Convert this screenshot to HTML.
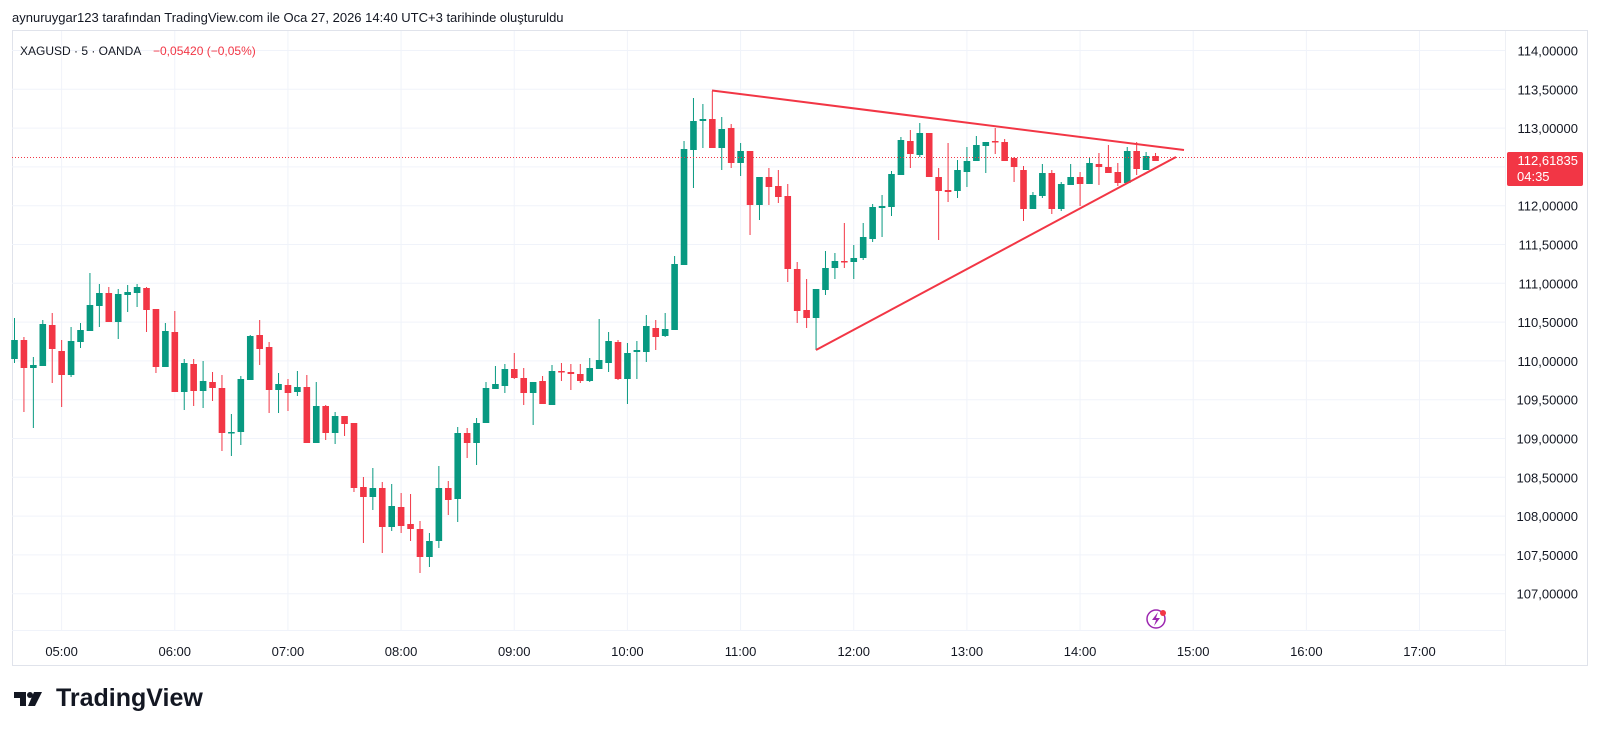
<!DOCTYPE html>
<html><head><meta charset="utf-8"><style>
body{margin:0;background:#fff;font-family:"Liberation Sans",sans-serif;}
</style></head><body>
<svg id="s" width="1600" height="733" xmlns="http://www.w3.org/2000/svg" style="display:block">
<rect width="1600" height="733" fill="#fff"/>
<text x="12" y="22" font-size="13" fill="#131722">aynuruygar123 tarafından TradingView.com ile Oca 27, 2026 14:40 UTC+3 tarihinde oluşturuldu</text>
<rect x="12.5" y="30.5" width="1575" height="635" fill="none" stroke="#e0e3eb"/>
<g id="grid" stroke="#f0f3fa" stroke-width="1"></g>
<line x1="12" y1="630.5" x2="1505" y2="630.5" stroke="#f0f3fa"/>
<line x1="1505.5" y1="31" x2="1505.5" y2="665" stroke="#eef0f5"/>
<g id="c"></g>
<line x1="12" y1="157.5" x2="1505" y2="157.5" stroke="#f23645" stroke-dasharray="1,2"/>
<line x1="712" y1="90.5" x2="1184" y2="150" stroke="#f23645" stroke-width="2"/>
<line x1="816" y1="350" x2="1176" y2="157" stroke="#f23645" stroke-width="2"/>
<g id="p" font-size="13" fill="#131722" text-anchor="end"></g>
<rect x="1507" y="152" width="76" height="34" rx="2" fill="#f23645"/>
<text x="1578" y="165" font-size="13" fill="#fff" text-anchor="end">112,61835</text>
<text x="1517" y="181" font-size="13" fill="#fff">04:35</text>
<g id="t" font-size="13" fill="#131722" text-anchor="middle"></g>
<text x="20" y="55" font-size="12" fill="#131722">XAGUSD · 5 · OANDA</text>
<text x="153" y="55" font-size="12" fill="#f23645">−0,05420 (−0,05%)</text>
<circle cx="1156" cy="619" r="9" fill="none" stroke="#9c27b0" stroke-width="1.5"/>
<path d="M1158 612 L1152 620 L1156 620 L1154 626 L1160 618 L1156 618 Z" fill="#9c27b0"/>
<circle cx="1163" cy="613" r="3" fill="#f23645"/>
<path d="M14 692 h12 v14 h-6 v-8 h-6 z" fill="#131722"/>
<circle cx="30" cy="695" r="3" fill="#131722"/>
<path d="M34 692 h8 l-7 14 h-7 z" fill="#131722"/>
<text x="56" y="706" font-size="25" font-weight="bold" fill="#131722">TradingView</text>
</svg>
<script>
var ns="http://www.w3.org/2000/svg";
function el(p,t,a,txt){var e=document.createElementNS(ns,t);for(var k in a)e.setAttribute(k,a[k]);if(txt)e.textContent=txt;document.getElementById(p).appendChild(e);}
var prices=["114,00000","113,50000","113,00000","112,50000","112,00000","111,50000","111,00000","110,50000","110,00000","109,50000","109,00000","108,50000","108,00000","107,50000","107,00000"];
for(var i=0;i<prices.length;i++){var y=50.5+i*38.8;el("grid","line",{x1:12,x2:1505,y1:y,y2:y});if(i!=3)el("p","text",{x:1578,y:y+5},prices[i]);}
var names=["05:00","06:00","07:00","08:00","09:00","10:00","11:00","12:00","13:00","14:00","15:00","16:00","17:00"];
names.forEach(function(n,k){var x=61.6+113.16*k;el("grid","line",{x1:x,x2:x,y1:31,y2:630});el("t","text",{x:x,y:656},n);});
var d=[[340,359,318,363,1],[340,368,337,412,0],[365,368,357,428,1],[324,366,320,366,1],[325,349,313,383,0],[351,375,340,407,0],[341,375,327,377,1],[330,342,323,348,1],[305,331,273,331,1],[293,306,284,327,1],[293,322,287,322,0],[294,322,289,339,1],[292,295,285,312,1],[287,293,284,307,1],[288,310,287,332,0],[309,367,309,373,0],[331,367,323,367,1],[332,392,311,392,0],[363,392,359,410,1],[364,391,359,406,0],[381,391,361,408,1],[382,388,372,401,0],[388,433,375,451,0],[432,433,414,456,1],[379,432,376,445,1],[336,380,335,380,1],[335,349,320,365,0],[347,390,342,413,0],[384,390,373,413,1],[385,393,379,411,0],[387,392,371,396,1],[387,443,375,443,0],[406,443,382,443,1],[406,433,405,440,0],[416,433,412,444,1],[416,424,416,436,0],
[423,488,423,492,0],[487,497,477,543,0],[488,497,468,510,1],[488,527,482,553,0],[506,527,484,531,1],[507,526,493,533,0],[524,529,494,541,0],[529,557,521,573,0],[541,557,533,567,1],[488,541,466,548,1],[488,500,481,515,0],[433,499,427,522,1],[433,443,428,458,0],[423,443,418,465,1],[388,423,382,423,1],[384,389,366,389,1],[369,386,364,393,1],[369,378,353,379,0],[378,393,368,405,0],[382,393,382,425,1],[381,404,376,404,0],[371,405,365,405,1],[371,372,363,381,0],[372,374,364,390,0],[374,381,364,383,0],[368,381,358,382,1],[360,369,319,369,1],[341,363,332,372,1],[342,379,340,380,0],[353,379,343,404,1],[350,352,341,379,1],[326,352,315,362,1],[328,337,320,350,0],[329,336,313,337,1],
[264,330,256,330,1],[149,265,141,265,1],[121,150,98,188,1],[119,121,104,148,1],[119,148,91,148,0],[129,148,117,170,1],[128,163,124,168,0],[151,163,143,176,1],[151,205,151,235,0],[177,205,177,220,1],[177,187,168,205,0],[186,197,170,203,0],[196,269,184,282,0],[269,311,262,323,0],[310,318,279,328,0],[289,318,289,350,1],[268,290,251,295,1],[261,268,253,279,1],[261,262,223,268,0],[258,262,245,279,1],[237,258,223,260,1],[207,239,204,242,1],[206,208,195,237,1],[174,207,171,216,1],[140,175,137,175,1],[141,154,130,168,0],[133,155,123,157,1],[133,177,133,177,0],[177,191,168,240,0],
[190,192,143,202,0],[170,191,160,198,1],[161,172,147,187,1],[145,161,136,161,1],[142,146,142,173,1],[141,142,128,154,0],[142,161,139,161,0],[158,167,157,182,0],[170,209,166,221,0],[195,209,192,209,1],[173,196,164,198,1],[173,209,170,214,0],[184,209,182,211,1],[177,185,164,185,1],[177,184,172,206,0],[163,184,157,184,1],[164,167,153,185,0],[167,173,145,173,0],[172,183,163,186,0],[151,183,147,183,1],[151,169,142,175,0],[156,170,152,170,1],[156,161,153,161,0]];
d.forEach(function(c,i){var x=14.5+9.43*i;var col=c[4]?"#089981":"#f23645";
el("c","line",{x1:x,x2:x,y1:c[2],y2:c[3],stroke:col,"stroke-width":1});
el("c","rect",{x:x-3.3,y:c[0],width:6.6,height:Math.max(c[1]-c[0],1.5),fill:col});});
</script>
</body></html>
